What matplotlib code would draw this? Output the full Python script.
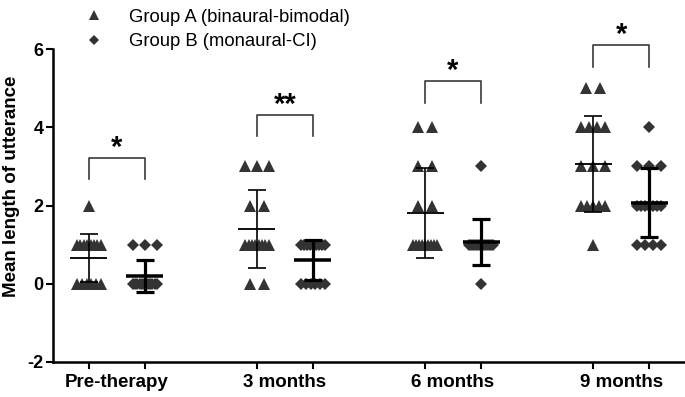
import numpy as np
import matplotlib
matplotlib.use('Agg')
import matplotlib.pyplot as plt
from matplotlib.lines import Line2D

plt.rcParams['font.family'] = ['Liberation Sans', 'DejaVu Sans']
plt.rcParams['axes.unicode_minus'] = False

timepoints = ['Pre-therapy', '3 months', '6 months', '9 months']
series_names = ['Group A (binaural-bimodal)', 'Group B (monaural-CI)']

# MLU scores per child
group_a = [
    [2] + [1] * 8 + [0] * 6,
    [3] * 3 + [2] * 2 + [1] * 8 + [0] * 2,
    [4] * 2 + [3] * 2 + [2] * 2 + [1] * 9,
    [5] * 2 + [4] * 4 + [3] * 3 + [2] * 5 + [1],
]
group_b = [
    [1] * 3 + [0] * 12,
    [1] * 9 + [0] * 6,
    [3] + [1] * 13 + [0],
    [4] + [3] * 3 + [2] * 7 + [1] * 4,
]
stars = ['*', '**', '*', '*']
bracket_top = [3.22, 4.32, 5.17, 6.1]

col = '#333333'


def spread(vals, step=0.25, maxspan=0.42):
    vals = np.asarray(vals, dtype=float)
    off = np.zeros(len(vals))
    for v in np.unique(vals):
        idx = np.where(vals == v)[0]
        k = len(idx)
        if k > 1:
            span = min(step * (k - 1), maxspan)
            off[idx] = np.linspace(-span / 2, span / 2, k)
    return off


fig = plt.figure(figsize=(6.85, 3.97), dpi=100)
ax = fig.add_axes([53 / 685, 1 - 362 / 397, 1 - 53 / 685, (362 - 49) / 397])

for i in range(len(timepoints)):
    xa, xb = 3 * i, 3 * i + 1
    for x0, vals, mk, ms, lw in [(xa, group_a[i], '^', 8, 1.2), (xb, group_b[i], 'D', 6.3, 2.3)]:
        vals = np.asarray(vals, dtype=float)
        ax.plot(x0 + spread(vals), vals, ls='none', marker=mk, ms=ms, color=col,
                markeredgewidth=0, zorder=2)
        m, sd = vals.mean(), vals.std(ddof=1)
        ax.hlines(m, x0 - 0.33, x0 + 0.33, color='black', lw=lw * 1.1, zorder=3)
        ax.vlines(x0, m - sd, m + sd, color='black', lw=lw, zorder=3)
        ax.hlines([m - sd, m + sd], x0 - 0.16, x0 + 0.16, color='black', lw=lw, zorder=3)
    top = bracket_top[i]
    ax.plot([xa, xa, xb, xb], [top - 0.55, top, top, top - 0.55], color='#3a3a3a', lw=1.2,
            clip_on=False)
    ax.text((xa + xb) / 2, top - 0.1, stars[i], ha='center', va='bottom', fontsize=21,
            fontweight='bold', clip_on=False)

ax.set_xlim(-0.64, 10.64)
ax.set_ylim(-2, 6)
ax.set_yticks([-2, 0, 2, 4, 6])
ax.set_xticks([t for i in range(4) for t in (3 * i, 3 * i + 1)])
ax.set_xticklabels([])
for i, lab in enumerate(timepoints):
    ax.text(3 * i + 0.5, -2.3, lab, ha='center', va='top', fontsize=13.5, fontweight='bold',
            transform=ax.transData)
ax.tick_params(axis='both', direction='out', length=5, width=1.5, labelsize=13, pad=2)
for lab in ax.get_yticklabels():
    lab.set_fontweight('bold')
ax.spines['top'].set_visible(False)
ax.spines['right'].set_visible(False)
ax.spines['left'].set_linewidth(1.8)
ax.spines['bottom'].set_linewidth(1.8)
ax.set_ylabel('Mean length of utterance', fontsize=13.5, fontweight='bold')
ax.yaxis.set_label_coords(-0.053, 0.56)

handles = [Line2D([], [], ls='none', marker='^', ms=7, color=col, markeredgewidth=0),
           Line2D([], [], ls='none', marker='D', ms=5, color=col, markeredgewidth=0)]
fig.legend(handles, series_names, loc='upper left', bbox_to_anchor=(64 / 685, 1.02),
           frameon=False, fontsize=13.3, handletextpad=1.1, labelspacing=0.4, handlelength=1.5)

fig.savefig('out.png', dpi=100)
